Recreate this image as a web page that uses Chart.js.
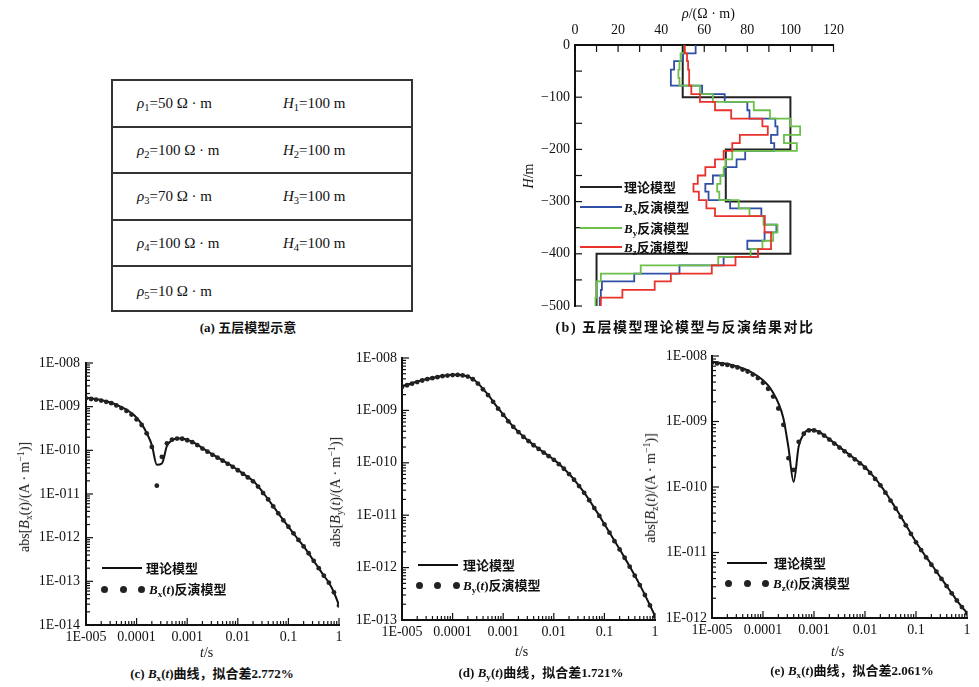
<!DOCTYPE html>
<html>
<head>
<meta charset="utf-8">
<script src="https://cdn.jsdelivr.net/npm/chart.js@4.4.1/dist/chart.umd.min.js"></script>
<style>
  body { margin: 0; background: #fff; }
  #page { position: relative; width: 979px; height: 687px; overflow: hidden; color: #111;
    font-family: "Liberation Serif", "Noto Sans CJK SC", serif; }
  .pane { position: absolute; }
  .cn { font-family: "Noto Sans CJK SC", sans-serif; }
  sub { font-size: 70%; vertical-align: -0.3em; line-height: 0; }
  sup { font-size: 70%; vertical-align: 0.5em; line-height: 0; }
  .cap { position: absolute; font-size: 13px; line-height: 16px; font-weight: bold; white-space: nowrap; transform: translateX(-50%); }
  .lbl { position: absolute; font-size: 14px; line-height: 18px; white-space: nowrap; }
  .ytitle { position: absolute; font-size: 14px; line-height: 18px; white-space: nowrap; transform: translate(-50%, -50%) rotate(-90deg); }
  .legline { position: absolute; height: 2px; }
  .legtxt { position: absolute; font-size: 13px; line-height: 18px; white-space: nowrap; font-weight: bold; }
  .dot { position: absolute; width: 7px; height: 7px; border-radius: 50%; background: #222; }
  #layers { position: absolute; left: 111px; top: 79px; width: 302px; height: 233px; border: 2px solid #333; box-sizing: border-box; }
  #layers .row { position: relative; height: 46.6px; box-sizing: border-box; border-bottom: 2px solid #333; font-size: 15px; }
  #layers .row:last-child { border-bottom: none; }
  #layers .row span { position: absolute; top: 50%; transform: translateY(-50%); white-space: nowrap; }
</style>
</head>
<body>
<div id="page">
  <div id="layers"></div>
  <div class="cap" style="left:248px;top:319px">(a) <span class="cn">五层模型示意</span></div>

  <canvas id="chartB" class="pane" width="330" height="320" style="left:520px;top:0px"></canvas>
  <div class="lbl" style="left:682px;top:5px"><i>ρ</i>/(Ω · m)</div>
  <div class="ytitle" style="left:529px;top:176px"><i>H</i>/m</div>
  <div class="legline" style="left:580px;top:186px;width:42px;background:#222"></div>
  <div class="legtxt cn" style="left:624px;top:178px">理论模型</div>
  <div class="legline" style="left:580px;top:206px;width:42px;background:#2f4fa6"></div>
  <div class="legtxt" style="left:624px;top:198px"><i>B</i><sub>x</sub><span class="cn">反演模型</span></div>
  <div class="legline" style="left:580px;top:227px;width:42px;background:#6cbf4a"></div>
  <div class="legtxt" style="left:624px;top:219px"><i>B</i><sub>y</sub><span class="cn">反演模型</span></div>
  <div class="legline" style="left:580px;top:246px;width:42px;background:#e8322b"></div>
  <div class="legtxt" style="left:624px;top:238px"><i>B</i><sub>z</sub><span class="cn">反演模型</span></div>
  <div class="cap" style="left:685px;top:318px;font-size:14px;letter-spacing:1.5px">(b) <span class="cn">五层模型理论模型与反演结果对比</span></div>

  <canvas id="chartC" class="pane" width="350" height="315" style="left:0px;top:340px"></canvas>
  <canvas id="chartD" class="pane" width="340" height="310" style="left:330px;top:340px"></canvas>
  <canvas id="chartE" class="pane" width="329" height="308" style="left:650px;top:340px"></canvas>

  <div class="ytitle" style="left:25px;top:497px">abs[<i>B</i><sub>x</sub>(<i>t</i>)/(A · m<sup>−1</sup>)]</div>
  <div class="ytitle" style="left:336px;top:492px">abs[<i>B</i><sub>y</sub>(<i>t</i>)/(A · m<sup>−1</sup>)]</div>
  <div class="ytitle" style="left:651px;top:488px">abs[<i>B</i><sub>z</sub>(<i>t</i>)/(A · m<sup>−1</sup>)]</div>

  <div class="lbl" style="left:200px;top:644px"><i>t</i>/s</div>
  <div class="lbl" style="left:515px;top:643px"><i>t</i>/s</div>
  <div class="lbl" style="left:831px;top:643px"><i>t</i>/s</div>

  <div class="legline" style="left:102px;top:567px;width:40px;background:#111"></div>
  <div class="legtxt cn" style="left:146px;top:559px">理论模型</div>
  <div class="dot" style="left:101px;top:586px"></div><div class="dot" style="left:120px;top:586px"></div><div class="dot" style="left:138px;top:586px"></div>
  <div class="legtxt" style="left:149px;top:580px"><i>B</i><sub>x</sub>(<i>t</i>)<span class="cn">反演模型</span></div>

  <div class="legline" style="left:418px;top:564px;width:40px;background:#111"></div>
  <div class="legtxt cn" style="left:463px;top:556px">理论模型</div>
  <div class="dot" style="left:416px;top:582px"></div><div class="dot" style="left:434px;top:582px"></div><div class="dot" style="left:453px;top:582px"></div>
  <div class="legtxt" style="left:463px;top:576px"><i>B</i><sub>y</sub>(<i>t</i>)<span class="cn">反演模型</span></div>

  <div class="legline" style="left:727px;top:562px;width:40px;background:#111"></div>
  <div class="legtxt cn" style="left:774px;top:554px">理论模型</div>
  <div class="dot" style="left:725px;top:580px"></div><div class="dot" style="left:744px;top:580px"></div><div class="dot" style="left:762px;top:580px"></div>
  <div class="legtxt" style="left:773px;top:574px"><i>B</i><sub>z</sub>(<i>t</i>)<span class="cn">反演模型</span></div>

  <div class="cap" style="left:212px;top:665px">(c) <i>B</i><sub>x</sub>(<i>t</i>)<span class="cn">曲线，拟合差</span>2.772%</div>
  <div class="cap" style="left:541px;top:664px">(d) <i>B</i><sub>y</sub>(<i>t</i>)<span class="cn">曲线，拟合差</span>1.721%</div>
  <div class="cap" style="left:852px;top:662px">(e) <i>B</i><sub>x</sub>(<i>t</i>)<span class="cn">曲线，拟合差</span>2.061%</div>
</div>

<script>
'use strict'
// (a) layer model
const layerRho = [50, 100, 70, 100, 10];
const layerH = [100, 100, 100, 100];

// (b) resistivity vs depth
const modelTops = [0, -100, -200, -300, -400, -500];
const modelRho = [50, 100, 70, 100, 10];
const invTops = [0, -16, -31, -47, -63, -78, -94, -109, -125, -141, -156, -172, -188, -203, -219, -234,
  -250, -266, -281, -297, -313, -328, -344, -359, -375, -391, -406, -422, -438, -453, -469, -484, -500];
const bxRho = [56, 50, 46, 44.5, 44.5, 59, 69.5, 80, 81, 93, 94, 91, 92.5, 79, 75, 69.5,
  64, 60.5, 62, 72, 86.5, 88, 93.5, 88, 80, 85, 69, 48.5, 27.5, 12.5, 12, 11.5];
const byRho = [50, 49, 48.5, 48, 48.5, 58, 64, 83, 90.5, 100, 104.5, 97, 103, 73, 70, 69,
  67.5, 66, 67, 76, 81, 87.5, 94, 92, 87, 81.5, 66.5, 30.5, 12, 10, 10, 9.5];
const bzRho = [51, 52, 52.5, 53, 53, 54, 58, 65, 72.5, 87, 89.5, 76.5, 73, 69, 65, 60.5,
  57, 55, 57.5, 61, 65, 88, 88, 91, 91, 85, 74.5, 63.5, 44.5, 37, 22, 12];
const rhoTicks = [0, 20, 40, 60, 80, 100, 120];
const depthTicks = [0, -100, -200, -300, -400, -500];

// (c)(d)(e) time gates, s
const times = [
  1.00e-5, 1.26e-5, 1.58e-5, 2.00e-5, 2.51e-5, 3.16e-5, 3.98e-5, 5.01e-5, 6.31e-5, 7.94e-5,
  1.00e-4, 1.26e-4, 1.58e-4, 2.00e-4, 2.51e-4, 3.16e-4, 3.98e-4, 5.01e-4, 6.31e-4, 7.94e-4,
  1.00e-3, 1.26e-3, 1.58e-3, 2.00e-3, 2.51e-3, 3.16e-3, 3.98e-3, 5.01e-3, 6.31e-3, 7.94e-3,
  1.00e-2, 1.26e-2, 1.58e-2, 2.00e-2, 2.51e-2, 3.16e-2, 3.98e-2, 5.01e-2, 6.31e-2, 7.94e-2,
  1.00e-1, 1.26e-1, 1.58e-1, 2.00e-1, 2.51e-1, 3.16e-1, 3.98e-1, 5.01e-1, 6.31e-1, 7.94e-1, 1.00];

const bxTheory = [
  1.58e-9, 1.55e-9, 1.48e-9, 1.41e-9, 1.32e-9, 1.23e-9, 1.10e-9, 9.77e-10, 8.51e-10, 7.08e-10,
  5.62e-10, 3.98e-10, 2.51e-10, 1.32e-10, 4.68e-11, 5.01e-11, 1.26e-10, 1.70e-10, 1.86e-10, 1.86e-10,
  1.74e-10, 1.58e-10, 1.35e-10, 1.12e-10, 9.55e-11, 8.13e-11, 6.92e-11, 5.89e-11, 5.01e-11, 4.27e-11,
  3.55e-11, 2.95e-11, 2.45e-11, 2.00e-11, 1.51e-11, 1.07e-11, 7.59e-12, 5.25e-12, 3.63e-12, 2.51e-12,
  1.78e-12, 1.26e-12, 8.91e-13, 6.31e-13, 4.37e-13, 2.95e-13, 2.00e-13, 1.35e-13, 9.33e-14, 5.62e-14, 2.82e-14];
const bxInv = [
  1.55e-9, 1.50e-9, 1.45e-9, 1.38e-9, 1.29e-9, 1.20e-9, 1.07e-9, 9.3e-10, 8.0e-10, 6.6e-10,
  5.1e-10, 3.8e-10, 2.45e-10, 1.20e-10, 1.55e-11, 7.1e-11, 1.45e-10, 1.75e-10, 1.86e-10, 1.84e-10,
  1.70e-10, 1.54e-10, 1.32e-10, 1.10e-10, 9.3e-11, 7.9e-11, 6.8e-11, 5.8e-11, 4.9e-11, 4.2e-11,
  3.5e-11, 2.9e-11, 2.4e-11, 1.95e-11, 1.48e-11, 1.05e-11, 7.5e-12, 5.2e-12, 3.6e-12, 2.5e-12,
  1.78e-12, 1.26e-12, 8.9e-13, 6.3e-13, 4.4e-13, 2.95e-13, 2.0e-13, 1.35e-13, 9.3e-14, 5.6e-14, 2.8e-14];

const byTheory = [
  2.88e-9, 3.09e-9, 3.31e-9, 3.55e-9, 3.80e-9, 3.98e-9, 4.17e-9, 4.37e-9, 4.57e-9, 4.68e-9,
  4.79e-9, 4.79e-9, 4.68e-9, 4.47e-9, 3.98e-9, 3.31e-9, 2.57e-9, 2.00e-9, 1.48e-9, 1.10e-9,
  8.32e-10, 6.31e-10, 4.90e-10, 3.89e-10, 3.16e-10, 2.63e-10, 2.19e-10, 1.86e-10, 1.58e-10, 1.35e-10,
  1.15e-10, 9.55e-11, 7.76e-11, 6.17e-11, 4.79e-11, 3.63e-11, 2.69e-11, 1.95e-11, 1.38e-11, 9.77e-12,
  6.76e-12, 4.68e-12, 3.24e-12, 2.24e-12, 1.55e-12, 1.05e-12, 7.08e-13, 4.68e-13, 3.02e-13, 1.91e-13, 1.20e-13];
const byInv = [
  2.80e-9, 3.02e-9, 3.24e-9, 3.47e-9, 3.72e-9, 3.94e-9, 4.12e-9, 4.30e-9, 4.50e-9, 4.62e-9,
  4.72e-9, 4.75e-9, 4.65e-9, 4.42e-9, 3.93e-9, 3.25e-9, 2.52e-9, 1.96e-9, 1.46e-9, 1.08e-9,
  8.2e-10, 6.2e-10, 4.85e-10, 3.85e-10, 3.12e-10, 2.60e-10, 2.16e-10, 1.84e-10, 1.57e-10, 1.34e-10,
  1.14e-10, 9.4e-11, 7.7e-11, 6.1e-11, 4.75e-11, 3.6e-11, 2.67e-11, 1.93e-11, 1.37e-11, 9.7e-12,
  6.7e-12, 4.65e-12, 3.2e-12, 2.22e-12, 1.54e-12, 1.04e-12, 7.0e-13, 4.65e-13, 3.0e-13, 1.9e-13, 1.18e-13];

const bzTheory = [
  8.13e-9, 7.94e-9, 7.76e-9, 7.59e-9, 7.24e-9, 6.92e-9, 6.46e-9, 6.03e-9, 5.50e-9, 4.90e-9,
  4.27e-9, 3.55e-9, 2.75e-9, 1.91e-9, 1.12e-9, 3.98e-10, 1.20e-10, 4.17e-10, 6.46e-10, 7.41e-10,
  7.41e-10, 6.92e-10, 6.17e-10, 5.37e-10, 4.68e-10, 4.07e-10, 3.55e-10, 3.09e-10, 2.69e-10, 2.34e-10,
  2.00e-10, 1.66e-10, 1.35e-10, 1.07e-10, 8.32e-11, 6.31e-11, 4.79e-11, 3.55e-11, 2.63e-11, 1.95e-11,
  1.45e-11, 1.10e-11, 8.51e-12, 6.61e-12, 5.13e-12, 3.98e-12, 3.09e-12, 2.40e-12, 1.86e-12, 1.48e-12, 1.20e-12];
const bzInv = [
  7.9e-9, 7.7e-9, 7.5e-9, 7.3e-9, 7.0e-9, 6.7e-9, 6.2e-9, 5.8e-9, 5.2e-9, 4.6e-9,
  3.9e-9, 3.16e-9, 2.40e-9, 1.58e-9, 8.9e-10, 2.75e-10, 1.82e-10, 4.9e-10, 6.5e-10, 7.3e-10,
  7.3e-10, 6.8e-10, 6.1e-10, 5.3e-10, 4.6e-10, 4.0e-10, 3.5e-10, 3.05e-10, 2.65e-10, 2.3e-10,
  1.97e-10, 1.64e-10, 1.33e-10, 1.06e-10, 8.2e-11, 6.2e-11, 4.7e-11, 3.5e-11, 2.6e-11, 1.93e-11,
  1.43e-11, 1.09e-11, 8.4e-12, 6.5e-12, 5.1e-12, 3.95e-12, 3.07e-12, 2.38e-12, 1.85e-12, 1.47e-12, 1.18e-12];

const timeDecades = [1e-5, 1e-4, 1e-3, 1e-2, 1e-1, 1];
const timeTickLabels = ['1E-005', '0.0001', '0.001', '0.01', '0.1', '1'];
const fieldTickLabels = { '-8': '1E-008', '-9': '1E-009', '-10': '1E-010', '-11': '1E-011',
  '-12': '1E-012', '-13': '1E-013', '-14': '1E-014' };

const tickFont = { family: '"Liberation Serif", serif', size: 14 };
const ink = '#111';

// layer table for (a)
const layers = document.getElementById('layers');
for (let i = 0; i < layerRho.length; i++) {
  let row = document.createElement('div');
  row.className = 'row';
  row.innerHTML = `<span style="left:24px"><i>ρ</i><sub>${i + 1}</sub>=${layerRho[i]} Ω · m</span>` +
    (i < layerH.length ? `<span style="left:170px"><i>H</i><sub>${i + 1}</sub>=${layerH[i]} m</span>` : '');
  layers.appendChild(row);
}

// short inward ticks, like the original plots
const innerTicks = {
  id: 'innerTicks',
  afterDraw(chart) {
    const ctx = chart.ctx;
    const a = chart.chartArea;
    ctx.save();
    ctx.strokeStyle = ink;
    ctx.lineWidth = 1.2;
    Object.values(chart.scales).forEach(s => {
      let marks = [];
      if (s.type === 'logarithmic') {
        let lo = Math.round(Math.log10(s.min));
        let hi = Math.round(Math.log10(s.max));
        for (let e = lo; e <= hi; e++) {
          marks.push({ v: Math.pow(10, e), len: 7 });
          if (e < hi) {
            for (let k = 2; k < 10; k++) marks.push({ v: k * Math.pow(10, e), len: 4 });
          }
        }
      } else {
        let step = s.options.innerStep;
        for (let v = s.min; v <= s.max + 1e-9; v += step) marks.push({ v: v, len: 7 });
      }
      marks.forEach(m => {
        let p = s.getPixelForValue(m.v);
        ctx.beginPath();
        if (s.isHorizontal()) {
          let y0 = s.position === 'top' ? a.top : a.bottom;
          let dir = s.position === 'top' ? 1 : -1;
          ctx.moveTo(p, y0);
          ctx.lineTo(p, y0 + dir * m.len);
        } else {
          ctx.moveTo(a.left, p);
          ctx.lineTo(a.left + m.len, p);
        }
        ctx.stroke();
      });
    });
    ctx.restore();
  }
};

function steps(tops, rho) {
  let pts = [];
  for (let i = 0; i < rho.length; i++) {
    pts.push({ x: rho[i], y: tops[i] });
    pts.push({ x: rho[i], y: tops[i + 1] });
  }
  return pts;
}

function stepSet(tops, rho, color, width) {
  return {
    data: steps(tops, rho), showLine: true, borderColor: color, borderWidth: width,
    pointRadius: 0, fill: false, tension: 0
  };
}

new Chart(document.getElementById('chartB'), {
  type: 'scatter',
  data: {
    datasets: [
      stepSet(invTops, bzRho, '#e8322b', 1.8),
      stepSet(invTops, byRho, '#6cbf4a', 1.8),
      stepSet(invTops, bxRho, '#2f4fa6', 1.8),
      stepSet(modelTops, modelRho, '#222', 2)
    ]
  },
  options: {
    responsive: false,
    animation: false,
    layout: { padding: { top: 0, right: 14, bottom: 14, left: 0 } },
    plugins: { legend: { display: false }, tooltip: { enabled: false } },
    scales: {
      x: {
        type: 'linear', position: 'top', min: 0, max: 120, innerStep: 10,
        afterFit: s => { s.height = 45; },
        afterBuildTicks: s => { s.ticks = rhoTicks.map(v => ({ value: v })); },
        ticks: { font: tickFont, color: ink, padding: 6, maxRotation: 0 },
        grid: { drawOnChartArea: false, drawTicks: false },
        border: { color: ink, width: 2 }
      },
      y: {
        type: 'linear', min: -500, max: 0, innerStep: 50,
        afterFit: s => { s.width = 55; },
        afterBuildTicks: s => { s.ticks = depthTicks.map(v => ({ value: v })); },
        ticks: { font: tickFont, color: ink, padding: 5, callback: v => v < 0 ? '−' + Math.abs(v) : String(v) },
        grid: { drawOnChartArea: false, drawTicks: false },
        border: { color: ink, width: 2 }
      }
    }
  },
  plugins: [innerTicks]
});

function logChart(id, theory, inv, yMin, yW, yPad, padTop, padRight) {
  let yDecades = [];
  for (let e = Math.round(Math.log10(yMin)); e <= -8; e++) yDecades.push(Math.pow(10, e));
  return new Chart(document.getElementById(id), {
    type: 'line',
    data: {
      datasets: [
        {
          data: times.map((t, i) => ({ x: t, y: inv[i] })), showLine: false,
          pointRadius: 2.4, pointBackgroundColor: '#222', pointBorderWidth: 0, order: 1
        },
        {
          data: times.map((t, i) => ({ x: t, y: theory[i] })), borderColor: ink, borderWidth: 2,
          pointRadius: 0, cubicInterpolationMode: 'monotone', fill: false, order: 2
        }
      ]
    },
    options: {
      responsive: false,
      animation: false,
      layout: { padding: { top: padTop, right: padRight, bottom: 0, left: 0 } },
      plugins: { legend: { display: false }, tooltip: { enabled: false } },
      scales: {
        x: {
          type: 'logarithmic', min: 1e-5, max: 1,
          afterFit: s => { s.height = 30; },
          afterBuildTicks: s => { s.ticks = timeDecades.map(v => ({ value: v })); },
          ticks: { font: tickFont, color: ink, padding: 4, autoSkip: false, maxRotation: 0,
            callback: (v, i) => timeTickLabels[i] },
          grid: { drawOnChartArea: false, drawTicks: false },
          border: { color: ink, width: 2 }
        },
        y: {
          type: 'logarithmic', min: yMin, max: 1e-8,
          afterFit: s => { s.width = yW; },
          afterBuildTicks: s => { s.ticks = yDecades.map(v => ({ value: v })); },
          ticks: { font: tickFont, color: ink, padding: yPad, autoSkip: false,
            callback: v => fieldTickLabels[String(Math.round(Math.log10(v)))] },
          grid: { drawOnChartArea: false, drawTicks: false },
          border: { color: ink, width: 2 }
        }
      }
    },
    plugins: [innerTicks]
  });
}

logChart('chartC', bxTheory, bxInv, 1e-14, 86, 6, 23, 11);
logChart('chartD', byTheory, byInv, 1e-13, 72, 5, 18, 15);
logChart('chartE', bzTheory, bzInv, 1e-12, 62, 5, 16, 12);
</script>
</body>
</html>
